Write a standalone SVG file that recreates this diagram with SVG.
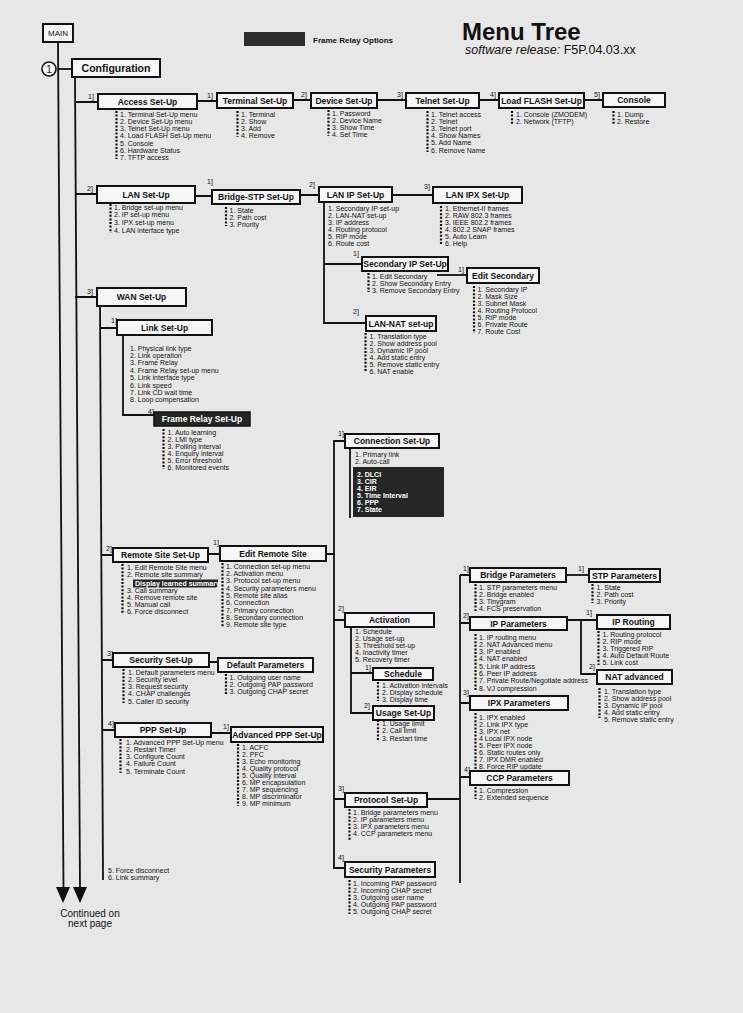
<svg xmlns="http://www.w3.org/2000/svg" width="743" height="1013" viewBox="0 0 743 1013">
<style>
.box{fill:#f6f6f6;stroke:#111;stroke-width:2}
.dbox{fill:#262626;stroke:#111;stroke-width:1.5}
.bt{font-family:"Liberation Sans",Arial,sans-serif;font-weight:bold;font-size:8.5px;text-anchor:middle;fill:#111}
.wt{font-family:"Liberation Sans",Arial,sans-serif;font-weight:bold;font-size:8.5px;text-anchor:middle;fill:#fff}
.it{font-family:"Liberation Sans",Arial,sans-serif;font-size:7px;fill:#111}
.wi{font-family:"Liberation Sans",Arial,sans-serif;font-weight:bold;font-size:7px;fill:#fff}
.lb{font-family:"Liberation Sans",Arial,sans-serif;font-size:7px;fill:#111}
.ln{stroke:#111;stroke-width:1.8;fill:none}
.bul{stroke:#111;stroke-width:2.2;stroke-dasharray:2 1.6;fill:none}
</style>
<rect x="0" y="0" width="743" height="1013" fill="#e7e7e7"/>

<g id="title">
<text x="462" y="40" font-family="'Liberation Sans',Arial,sans-serif" font-weight="bold" font-size="24" fill="#111">Menu Tree</text>
<text x="465" y="54" font-family="'Liberation Sans',Arial,sans-serif" font-size="12.5" fill="#111"><tspan font-style="italic">software release:</tspan> F5P.04.03.xx</text>
</g>
<g id="legend">
<rect x="244" y="32" width="61" height="14" fill="#2e2e2e"/>
<text x="313" y="43" font-family="'Liberation Sans',Arial,sans-serif" font-weight="bold" font-size="8" fill="#111">Frame Relay Options</text>
</g>

<g id="connectors">
<path class="ln" d="M58,42 L63.5,888"/>
<path class="ln" d="M75,77 L80,888"/>
<polygon points="56,887 70,887 63,903" fill="#111"/>
<polygon points="73,887 87,887 80,903" fill="#111"/>
<path class="ln" d="M58,69 H72"/>
<path class="ln" d="M75,102 H98 M75,194 H97 M75,297 H97"/>
<path class="ln" d="M197,101 H217 M293,100 H311 M377,100 H406 M479,100 H499 M584,100 H603"/>
<path class="ln" d="M195,196 H212 M300,195 H319 M392,195 H433"/>
<path class="ln" d="M324,202 V323 H366 M324,264 H362"/>
<path class="ln" d="M437,275 H467"/>
<path class="ln" d="M100,306 L103,880"/>
<path class="ln" d="M100,328 H117 M123,335 V415 H154"/>
<path class="ln" d="M101.5,555 H113 M208,554 H220 M326,554 H334"/>
<path class="ln" d="M345,441 H334 V868 H345 M334,620 H345 M334,799 H345"/>
<path class="ln" d="M350,448 V518"/>
<path class="ln" d="M351,627 V713 H373 M351,673 H373"/>
<path class="ln" d="M102,660 H113 M209,662 H218"/>
<path class="ln" d="M102,730 H115 M211,733 H231"/>
<path class="ln" d="M427,799 H460 M460,575 V883 M460,575 H470 M460,623 H470 M460,703 H470 M460,777 H470"/>
<path class="ln" d="M566,575 H589"/>
<path class="ln" d="M567,620 H597 M581,620 V674 H597"/>
<circle cx="49" cy="69" r="7" fill="#fafafa" stroke="#111" stroke-width="1.6"/>
<text x="49" y="72.5" text-anchor="middle" font-family="'Liberation Sans',Arial,sans-serif" font-size="10" fill="#111">1</text>
<text class="lb" x="88" y="99">1]</text>
<text class="lb" x="207" y="98">1]</text>
<text class="lb" x="301" y="97">2]</text>
<text class="lb" x="397" y="97">3]</text>
<text class="lb" x="490" y="97">4]</text>
<text class="lb" x="594" y="97">5]</text>
<text class="lb" x="87" y="191">2]</text>
<text class="lb" x="207" y="184">1]</text>
<text class="lb" x="309" y="187">2]</text>
<text class="lb" x="424" y="189">3]</text>
<text class="lb" x="353" y="256">1]</text>
<text class="lb" x="458" y="272">1]</text>
<text class="lb" x="353" y="314">2]</text>
<text class="lb" x="87" y="294">3]</text>
<text class="lb" x="111" y="323">1]</text>
<text class="lb" x="148" y="414">4]</text>
<text class="lb" x="338" y="436">1]</text>
<text class="lb" x="106" y="551">2]</text>
<text class="lb" x="213" y="545">1]</text>
<text class="lb" x="338" y="611">2]</text>
<text class="lb" x="365" y="670">1]</text>
<text class="lb" x="364" y="708">2]</text>
<text class="lb" x="107" y="656">3]</text>
<text class="lb" x="108" y="726">4]</text>
<text class="lb" x="223" y="729">1]</text>
<text class="lb" x="338" y="791">3]</text>
<text class="lb" x="338" y="860">4]</text>
<text class="lb" x="463" y="571">1]</text>
<text class="lb" x="578" y="571">1]</text>
<text class="lb" x="463" y="618">2]</text>
<text class="lb" x="586" y="615">1]</text>
<text class="lb" x="589" y="669">2]</text>
<text class="lb" x="463" y="695">3]</text>
<text class="lb" x="464" y="772">4]</text>
</g>

<g id="main"><rect class="box" x="43" y="24" width="30" height="18"/><text x="58" y="36" text-anchor="middle" font-family="'Liberation Sans',Arial,sans-serif" font-size="8" fill="#111">MAIN</text></g>
<g id="configuration"><rect class="box" x="72" y="59" width="88" height="18"/><text x="116" y="72" text-anchor="middle" font-family="'Liberation Sans',Arial,sans-serif" font-weight="bold" font-size="10.5" fill="#111">Configuration</text></g>

<g id="access-setup"><rect class="box" x="98" y="94" width="99" height="15"/><text class="bt" x="147.5" y="104.5">Access Set-Up</text>
<line class="bul" x1="116.5" y1="111" x2="116.5" y2="159"/>
<text class="it"><tspan x="120" y="116.5">1. Terminal Set-Up menu</tspan><tspan x="120" dy="7.3">2. Device Set-Up menu</tspan><tspan x="120" dy="7.3">3. Telnet Set-Up menu</tspan><tspan x="120" dy="7.3">4.   Load FLASH Set-Up menu</tspan><tspan x="120" dy="7.3">5. Console</tspan><tspan x="120" dy="7.3">6. Hardware Status</tspan><tspan x="120" dy="7.3">7. TFTP access</tspan></text></g>

<g id="terminal-setup"><rect class="box" x="217" y="93" width="76" height="15"/><text class="bt" x="255" y="103.5">Terminal Set-Up</text>
<line class="bul" x1="237.5" y1="111" x2="237.5" y2="137"/>
<text class="it"><tspan x="241" y="116.5">1. Terminal</tspan><tspan x="241" dy="7">2. Show</tspan><tspan x="241" dy="7">3. Add</tspan><tspan x="241" dy="7">4. Remove</tspan></text></g>

<g id="device-setup"><rect class="box" x="311" y="93" width="66" height="15"/><text class="bt" x="344" y="103.5">Device Set-Up</text>
<line class="bul" x1="328.5" y1="110" x2="328.5" y2="136"/>
<text class="it"><tspan x="332" y="115.5">1. Password</tspan><tspan x="332" dy="7">2. Device Name</tspan><tspan x="332" dy="7">3. Show Time</tspan><tspan x="332" dy="7">4. Set Time</tspan></text></g>

<g id="telnet-setup"><rect class="box" x="406" y="93" width="73" height="15"/><text class="bt" x="442.5" y="103.5">Telnet Set-Up</text>
<line class="bul" x1="427.5" y1="111" x2="427.5" y2="152"/>
<text class="it"><tspan x="431" y="116.5">1. Telnet access</tspan><tspan x="431" dy="7.2">2. Telnet</tspan><tspan x="431" dy="7.2">3. Telnet port</tspan><tspan x="431" dy="7.2">4. Show Names</tspan><tspan x="431" dy="7.2">5. Add Name</tspan><tspan x="431" dy="7.2">6. Remove Name</tspan></text></g>

<g id="loadflash-setup"><rect class="box" x="499" y="93" width="85" height="15"/><text class="bt" x="541.5" y="103.5">Load FLASH Set-Up</text>
<line class="bul" x1="512" y1="111" x2="512" y2="125"/>
<text class="it"><tspan x="516" y="116.5">1. Console (ZMODEM)</tspan><tspan x="516" dy="7">2. Network (TFTP)</tspan></text></g>

<g id="console"><rect class="box" x="603" y="93" width="62" height="14"/><text class="bt" x="634" y="103">Console</text>
<line class="bul" x1="613.5" y1="111" x2="613.5" y2="125"/>
<text class="it"><tspan x="617" y="116.5">1. Dump</tspan><tspan x="617" dy="7">2. Restore</tspan></text></g>

<g id="lan-setup"><rect class="box" x="97" y="186" width="98" height="17"/><text class="bt" x="146" y="197.5">LAN Set-Up</text>
<line class="bul" x1="110.5" y1="204" x2="110.5" y2="233"/>
<text class="it"><tspan x="114" y="209.5">1. Bridge set-up menu</tspan><tspan x="114" dy="7.9">2. IP set-up menu</tspan><tspan x="114" dy="7.9">3.  IPX set-up menu</tspan><tspan x="114" dy="7.9">4. LAN interface type</tspan></text></g>

<g id="bridge-stp-setup"><rect class="box" x="212" y="190" width="88" height="14"/><text class="bt" x="256" y="200">Bridge-STP Set-Up</text>
<line class="bul" x1="226" y1="207" x2="226" y2="226"/>
<text class="it"><tspan x="229.5" y="212.5">1. State</tspan><tspan x="229.5" dy="7">2. Path cost</tspan><tspan x="229.5" dy="7">3. Priority</tspan></text></g>

<g id="lan-ip-setup"><rect class="box" x="319" y="187" width="73" height="15"/><text class="bt" x="355.5" y="197.5">LAN IP Set-Up</text>
<text class="it"><tspan x="328" y="210.5">1. Secondary IP set-up</tspan><tspan x="328" dy="7">2. LAN-NAT set-up</tspan><tspan x="328" dy="7">3. IP address</tspan><tspan x="328" dy="7">4. Routing protocol</tspan><tspan x="328" dy="7">5. RIP mode</tspan><tspan x="328" dy="7">6. Route cost</tspan></text></g>

<g id="lan-ipx-setup"><rect class="box" x="433" y="187" width="89" height="16"/><text class="bt" x="477.5" y="198">LAN IPX Set-Up</text>
<line class="bul" x1="441" y1="206" x2="441" y2="245"/>
<text class="it"><tspan x="445" y="210.5">1. Ethernet-II frames</tspan><tspan x="445" dy="7">2. RAW 802.3 frames</tspan><tspan x="445" dy="7">3. IEEE 802.2 frames</tspan><tspan x="445" dy="7">4. 802.2 SNAP frames</tspan><tspan x="445" dy="7">5. Auto Learn</tspan><tspan x="445" dy="7">6. Help</tspan></text></g>

<g id="secondary-ip-setup"><rect class="box" x="362" y="257" width="86" height="14"/><text class="bt" x="405" y="267">Secondary IP Set-Up</text>
<line class="bul" x1="368.5" y1="273" x2="368.5" y2="292"/>
<text class="it"><tspan x="372" y="278.5">1. Edit Secondary</tspan><tspan x="372" dy="7">2. Show Secondary Entry</tspan><tspan x="372" dy="7">3. Remove Secondary Entry</tspan></text></g>

<g id="edit-secondary"><rect class="box" x="467" y="268" width="72" height="15"/><text class="bt" x="503" y="278.5">Edit Secondary</text>
<line class="bul" x1="474" y1="286" x2="474" y2="333"/>
<text class="it"><tspan x="477.5" y="291.5">1. Secondary IP</tspan><tspan x="477.5" dy="7">2. Mask Size</tspan><tspan x="477.5" dy="7">3. Subnet Mask</tspan><tspan x="477.5" dy="7">4. Routing Protocol</tspan><tspan x="477.5" dy="7">5. RIP mode</tspan><tspan x="477.5" dy="7">6. Private Route</tspan><tspan x="477.5" dy="7">7. Route Cost</tspan></text></g>

<g id="lan-nat-setup"><rect class="box" x="366" y="316" width="70" height="15"/><text class="bt" x="401" y="326.5">LAN-NAT set-up</text>
<line class="bul" x1="365.5" y1="333" x2="365.5" y2="372"/>
<text class="it"><tspan x="369.5" y="338.5">1. Translation type</tspan><tspan x="369.5" dy="7">2. Show address pool</tspan><tspan x="369.5" dy="7">3. Dynamic IP pool</tspan><tspan x="369.5" dy="7">4. Add static entry</tspan><tspan x="369.5" dy="7">5. Remove static entry</tspan><tspan x="369.5" dy="7">6. NAT enable</tspan></text></g>

<g id="wan-setup"><rect class="box" x="97" y="288" width="89" height="18"/><text class="bt" x="141.5" y="300">WAN Set-Up</text>
<text class="it"><tspan x="108" y="872.5">5. Force disconnect</tspan><tspan x="108" dy="7">6. Link summary</tspan></text></g>

<g id="link-setup"><rect class="box" x="117" y="320" width="95" height="15"/><text class="bt" x="164.5" y="330.5">Link Set-Up</text>
<text class="it"><tspan x="130" y="350.5">1. Physical link type</tspan><tspan x="130" dy="7.4">2. Link operation</tspan><tspan x="130" dy="7.4">3. Frame Relay</tspan><tspan x="130" dy="7.4">4. Frame Relay set-up menu</tspan><tspan x="130" dy="7.4">5. Link interface type</tspan><tspan x="130" dy="7.4">6. Link speed</tspan><tspan x="130" dy="7.4">7. Link CD wait time</tspan><tspan x="130" dy="7.4">8. Loop compensation</tspan></text></g>

<g id="frame-relay-setup"><rect class="dbox" x="154" y="412" width="96" height="14"/><text class="wt" x="202" y="422">Frame Relay Set-Up</text>
<line class="bul" x1="163.5" y1="429" x2="163.5" y2="469"/>
<text class="it"><tspan x="167.5" y="434.5">1. Auto learning</tspan><tspan x="167.5" dy="7">2. LMI type</tspan><tspan x="167.5" dy="7">3. Polling interval</tspan><tspan x="167.5" dy="7">4. Enquiry interval</tspan><tspan x="167.5" dy="7">5. Error threshold</tspan><tspan x="167.5" dy="7">6. Monitored events</tspan></text></g>

<g id="connection-setup"><rect class="box" x="345" y="434" width="94" height="14"/><text class="bt" x="392" y="444">Connection Set-Up</text>
<text class="it"><tspan x="355" y="456.5">1. Primary link</tspan><tspan x="355" dy="7.5">2. Auto-call</tspan></text>
<rect x="353" y="467" width="91" height="50" fill="#262626"/>
<text class="wi"><tspan x="357" y="476.5">2. DLCI</tspan><tspan x="357" dy="7">3. CIR</tspan><tspan x="357" dy="7">4. EIR</tspan><tspan x="357" dy="7">5. Time Interval</tspan><tspan x="357" dy="7">6.  PPP</tspan><tspan x="357" dy="7">7. State</tspan></text></g>

<g id="remote-site-setup"><rect class="box" x="113" y="548" width="95" height="14"/><text class="bt" x="160.5" y="558">Remote Site Set-Up</text>
<line class="bul" x1="122.5" y1="564" x2="122.5" y2="613"/>
<text class="it" x="127" y="569.5">1. Edit Remote Site menu</text>
<text class="it" x="127" y="576.8">2. Remote site summary</text>
<rect x="133" y="579.5" width="85" height="8" fill="#262626"/>
<text x="135" y="586.2" font-family="'Liberation Sans',Arial,sans-serif" font-weight="bold" font-size="7" fill="#fff">Display learned summary</text>
<text class="it"><tspan x="127" y="593">3. Call summary</tspan><tspan x="127" dy="7">4. Remove remote site</tspan><tspan x="127" dy="7">5. Manual call</tspan><tspan x="127" dy="7">6. Force disconnect</tspan></text></g>

<g id="edit-remote-site"><rect class="box" x="220" y="546" width="106" height="15"/><text class="bt" x="273" y="556.5">Edit Remote Site</text>
<line class="bul" x1="222.5" y1="563" x2="222.5" y2="627"/>
<text class="it"><tspan x="226" y="568.5">1. Connection  set-up menu</tspan><tspan x="226" dy="7.35">2. Activation menu</tspan><tspan x="226" dy="7.35">3. Protocol set-up menu</tspan><tspan x="226" dy="7.35">4. Security parameters menu</tspan><tspan x="226" dy="7.35">5. Remote site alias</tspan><tspan x="226" dy="7.35">6. Connection</tspan><tspan x="226" dy="7.35">7. Primary connection</tspan><tspan x="226" dy="7.35">8. Secondary connection</tspan><tspan x="226" dy="7.35">9. Remote site type</tspan></text></g>

<g id="activation"><rect class="box" x="345" y="613" width="89" height="14"/><text class="bt" x="389.5" y="623">Activation</text>
<text class="it"><tspan x="355" y="633.5">1. Schedule</tspan><tspan x="355" dy="7">2. Usage set-up</tspan><tspan x="355" dy="7">3. Threshold set-up</tspan><tspan x="355" dy="7">4. Inactivity  timer</tspan><tspan x="355" dy="7">5. Recovery timer</tspan></text></g>

<g id="schedule"><rect class="box" x="373" y="668" width="60" height="12"/><text class="bt" x="403" y="677">Schedule</text>
<line class="bul" x1="378" y1="682" x2="378" y2="701"/>
<text class="it"><tspan x="382" y="687.5">1. Activation intervals</tspan><tspan x="382" dy="7">2. Display schedule</tspan><tspan x="382" dy="7">3. Display time</tspan></text></g>

<g id="usage-setup"><rect class="box" x="373" y="706" width="61" height="14"/><text class="bt" x="403.5" y="716">Usage Set-Up</text>
<line class="bul" x1="378" y1="720" x2="378" y2="740"/>
<text class="it"><tspan x="382" y="725.5">1. Usage limit</tspan><tspan x="382" dy="7.5">2. Call limit</tspan><tspan x="382" dy="7.5">3. Restart time</tspan></text></g>

<g id="security-setup"><rect class="box" x="113" y="653" width="96" height="14"/><text class="bt" x="161" y="663">Security Set-Up</text>
<line class="bul" x1="123.5" y1="669" x2="123.5" y2="703"/>
<text class="it"><tspan x="128" y="674.5">1. Default parameters menu</tspan><tspan x="128" dy="7.25">2. Security level</tspan><tspan x="128" dy="7.25">3. Request security</tspan><tspan x="128" dy="7.25">4. CHAP challenges</tspan><tspan x="128" dy="7.25">5. Caller ID security</tspan></text></g>

<g id="default-parameters"><rect class="box" x="218" y="658" width="95" height="14"/><text class="bt" x="265.5" y="668">Default Parameters</text>
<line class="bul" x1="226" y1="674" x2="226" y2="694"/>
<text class="it"><tspan x="229.5" y="679.5">1. Outgoing user name</tspan><tspan x="229.5" dy="7.3">2. Outgoing PAP password</tspan><tspan x="229.5" dy="7.3">3. Outgoing CHAP secret</tspan></text></g>

<g id="ppp-setup"><rect class="box" x="115" y="723" width="96" height="14"/><text class="bt" x="163" y="733">PPP Set-Up</text>
<line class="bul" x1="120.5" y1="739" x2="120.5" y2="773"/>
<text class="it"><tspan x="126" y="744.5">1. Advanced PPP Set-Up menu</tspan><tspan x="126" dy="7.25">2. Restart Timer</tspan><tspan x="126" dy="7.25">3. Configure Count</tspan><tspan x="126" dy="7.25">4. Failure Count</tspan><tspan x="126" dy="7.25">5. Terminate Count</tspan></text></g>

<g id="advanced-ppp-setup"><rect class="box" x="231" y="727" width="92" height="15"/><text class="bt" x="277" y="737.5">Advanced PPP Set-Up</text>
<line class="bul" x1="238" y1="744" x2="238" y2="806"/>
<text class="it"><tspan x="242" y="749.5">1. ACFC</tspan><tspan x="242" dy="7.1">2. PFC</tspan><tspan x="242" dy="7.1">3. Echo monitoring</tspan><tspan x="242" dy="7.1">4. Quality protocol</tspan><tspan x="242" dy="7.1">5. Quality interval</tspan><tspan x="242" dy="7.1">6. MP encapsulation</tspan><tspan x="242" dy="7.1">7. MP sequencing</tspan><tspan x="242" dy="7.1">8. MP discriminator</tspan><tspan x="242" dy="7.1">9. MP minimum</tspan></text></g>

<g id="protocol-setup"><rect class="box" x="345" y="793" width="82" height="14"/><text class="bt" x="386" y="803">Protocol Set-Up</text>
<line class="bul" x1="349.5" y1="809" x2="349.5" y2="841"/>
<text class="it"><tspan x="353" y="814.5">1. Bridge parameters menu</tspan><tspan x="353" dy="7.3">2. IP parameters menu</tspan><tspan x="353" dy="7.3">3. IPX parameters menu</tspan><tspan x="353" dy="7.3">4. CCP parameters menu</tspan></text></g>

<g id="security-parameters"><rect class="box" x="345" y="862" width="90" height="15"/><text class="bt" x="390" y="872.5">Security Parameters</text>
<line class="bul" x1="349.5" y1="880" x2="349.5" y2="914"/>
<text class="it"><tspan x="353" y="885.5">1. Incoming PAP password</tspan><tspan x="353" dy="7.2">2. Incoming CHAP secret</tspan><tspan x="353" dy="7.2">3. Outgoing user name</tspan><tspan x="353" dy="7.2">4. Outgoing PAP password</tspan><tspan x="353" dy="7.2">5. Outgoing CHAP secret</tspan></text></g>

<g id="bridge-parameters"><rect class="box" x="470" y="568" width="96" height="14"/><text class="bt" x="518" y="578">Bridge Parameters</text>
<line class="bul" x1="475.5" y1="584" x2="475.5" y2="611"/>
<text class="it"><tspan x="479" y="589.5">1. STP parameters menu</tspan><tspan x="479" dy="7.3">2. Bridge enabled</tspan><tspan x="479" dy="7.3">3. Tinygram</tspan><tspan x="479" dy="7.3">4. FCS preservation</tspan></text></g>

<g id="stp-parameters"><rect class="box" x="589" y="569" width="71" height="13"/><text class="bt" x="624.5" y="578.5">STP Parameters</text>
<line class="bul" x1="592.5" y1="584" x2="592.5" y2="603"/>
<text class="it"><tspan x="596.5" y="589.5">1. State</tspan><tspan x="596.5" dy="7">2. Path cost</tspan><tspan x="596.5" dy="7">3. Priority</tspan></text></g>

<g id="ip-parameters"><rect class="box" x="470" y="617" width="97" height="13"/><text class="bt" x="518.5" y="626.5">IP Parameters</text>
<line class="bul" x1="475.5" y1="634" x2="475.5" y2="690"/>
<text class="it"><tspan x="479" y="639.5">1. IP routing menu</tspan><tspan x="479" dy="7.3">2. NAT Advanced menu</tspan><tspan x="479" dy="7.3">3. IP enabled</tspan><tspan x="479" dy="7.3">4. NAT enabled</tspan><tspan x="479" dy="7.3">5. Link IP address</tspan><tspan x="479" dy="7.3">6. Peer IP address</tspan><tspan x="479" dy="7.3">7. Private Route/Negotiate address</tspan><tspan x="479" dy="7.3">8. VJ compression</tspan></text></g>

<g id="ip-routing"><rect class="box" x="597" y="615" width="73" height="14"/><text class="bt" x="633.5" y="625">IP Routing</text>
<line class="bul" x1="598.5" y1="631" x2="598.5" y2="665"/>
<text class="it"><tspan x="602.5" y="636.5">1. Routing protocol</tspan><tspan x="602.5" dy="7.2">2. RIP mode</tspan><tspan x="602.5" dy="7.2">3. Triggered RIP</tspan><tspan x="602.5" dy="7.2">4. Auto Default Route</tspan><tspan x="602.5" dy="7.2">5. Link cost</tspan></text></g>

<g id="nat-advanced"><rect class="box" x="597" y="670" width="75" height="14"/><text class="bt" x="634.5" y="680">NAT advanced</text>
<line class="bul" x1="599.5" y1="688" x2="599.5" y2="718"/>
<text class="it"><tspan x="604" y="693.5">1. Translation type</tspan><tspan x="604" dy="7">2. Show address pool</tspan><tspan x="604" dy="7">3. Dynamic IP pool</tspan><tspan x="604" dy="7">4. Add static entry</tspan><tspan x="604" dy="7">5. Remove static entry</tspan></text></g>

<g id="ipx-parameters"><rect class="box" x="470" y="696" width="98" height="14"/><text class="bt" x="519" y="706">IPX Parameters</text>
<line class="bul" x1="475.5" y1="713" x2="475.5" y2="769"/>
<text class="it"><tspan x="479" y="719.5">1. IPX enabled</tspan><tspan x="479" dy="7.1">2. Link IPX type</tspan><tspan x="479" dy="7.1">3. IPX net</tspan><tspan x="479" dy="7.1">4 Local IPX node</tspan><tspan x="479" dy="7.1">5. Peer IPX node</tspan><tspan x="479" dy="7.1">6. Static routes only</tspan><tspan x="479" dy="7.1">7. IPX DMR enabled</tspan><tspan x="479" dy="7.1">8. Force RIP update</tspan></text></g>

<g id="ccp-parameters"><rect class="box" x="470" y="771" width="99" height="14"/><text class="bt" x="519.5" y="781">CCP Parameters</text>
<line class="bul" x1="475.5" y1="787" x2="475.5" y2="799"/>
<text class="it"><tspan x="479" y="792.5">1. Compression</tspan><tspan x="479" dy="7">2. Extended sequence</tspan></text></g>

<g id="continued">
<text x="90" y="917" text-anchor="middle" font-family="'Liberation Sans',Arial,sans-serif" font-size="10" fill="#111">Continued on</text>
<text x="90" y="927" text-anchor="middle" font-family="'Liberation Sans',Arial,sans-serif" font-size="10" fill="#111">next page</text>
</g>
</svg>
